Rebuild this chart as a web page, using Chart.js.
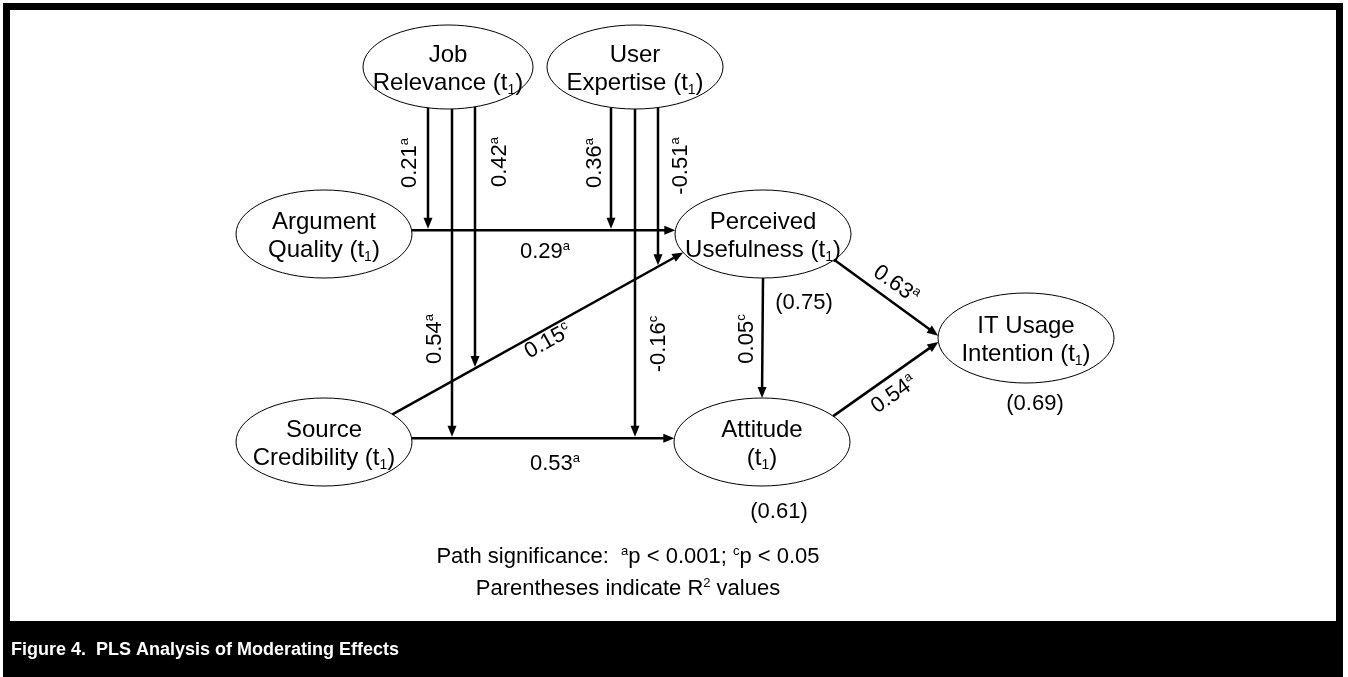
<!DOCTYPE html>
<html>
<head>
<meta charset="utf-8">
<title>PLS Analysis of Moderating Effects</title>
<script src="https://cdn.jsdelivr.net/npm/chart.js@4/dist/chart.umd.min.js"></script>
<style>
  html, body { margin: 0; padding: 0; background: #fff; }
  canvas { display: block; }
</style>
</head>
<body>
<canvas id="plsChart" width="1348" height="677"></canvas>
<script>
// ---- data ----
const constructs = ['JR', 'UE', 'AQ', 'SC', 'PU', 'ATT', 'IT'];
const constructLabels = [
  ['Job', 'Relevance (t{1})'],
  ['User', 'Expertise (t{1})'],
  ['Argument', 'Quality (t{1})'],
  ['Source', 'Credibility (t{1})'],
  ['Perceived', 'Usefulness (t{1})'],
  ['Attitude', '(t{1})'],
  ['IT Usage', 'Intention (t{1})']
];
const rSquared = [null, null, null, null, 0.75, 0.61, 0.69];

// direct paths
const pathFrom = ['AQ', 'SC', 'SC', 'PU', 'PU', 'ATT'];
const pathTo = ['PU', 'PU', 'ATT', 'ATT', 'IT', 'IT'];
const pathCoef = [0.29, 0.15, 0.53, 0.05, 0.63, 0.54];
const pathSig = ['a', 'c', 'a', 'c', 'a', 'a'];

// moderating effects (moderator -> index of path it moderates)
const modFrom = ['JR', 'JR', 'JR', 'UE', 'UE', 'UE'];
const modOnPath = [0, 2, 1, 0, 2, 1];
const modCoef = [0.21, 0.54, 0.42, 0.36, -0.16, -0.51];
const modSig = ['a', 'a', 'a', 'a', 'c', 'a'];

const notes = ['Path significance:  ^ap < 0.001; ^cp < 0.05', 'Parentheses indicate R^2 values'];
const caption = 'Figure 4.  PLS Analysis of Moderating Effects';

// ---- layout (drawing units, y grows downward) ----
const nodeX = [448, 635, 324, 324, 763, 762, 1026];
const nodeY = [67, 67, 234, 442, 234, 442, 338];
const nodeRx = [85, 88, 88, 88, 88, 88, 88];
const nodeRy = [42, 42, 44, 44, 44, 44, 45];
const pathStartAngle = [-5, -39, -5, 90, 36, -36];
const pathEndAngle = [185, 155, 185, -90, 183, 175];
const modOffset = [-20, 4, 27, -24, 0, 23];
const pathLabelPos = [[545, 250, 0], [547, 340, -29], [555, 462, 0], [745, 339, -90], [897, 283, 35], [893, 393, -35]];
const modLabelPos = [[408, 163, -90], [433, 339, -90], [498, 162, -90], [593, 163, -90], [657, 344, -90], [679, 166, -90]];
const r2Pos = [null, null, null, null, [804, 301], [779, 510], [1035, 402]];
const notePos = [[628, 555], [628, 587]];

const FONT = "'Liberation Sans', Arial, sans-serif";

// ---- helpers ----
const rad = d => d * Math.PI / 180;
const nodeIndex = code => constructs.indexOf(code);

function anchor(n, deg) {
  return { x: nodeX[n] + nodeRx[n] * Math.cos(rad(deg)), y: nodeY[n] + nodeRy[n] * Math.sin(rad(deg)) };
}

const pathSegs = pathFrom.map((f, i) => ({
  a: anchor(nodeIndex(f), pathStartAngle[i]),
  b: anchor(nodeIndex(pathTo[i]), pathEndAngle[i])
}));

function arrowDataset(label, from, tip) {
  const dx = tip.x - from.x, dy = tip.y - from.y, len = Math.hypot(dx, dy);
  const end = { x: tip.x - dx / len * 6, y: tip.y - dy / len * 6 };
  return {
    label: label,
    data: [from, end],
    tip: tip,
    showLine: true,
    borderColor: '#000',
    borderWidth: 2.5,
    pointRadius: 0,
    pointHoverRadius: 0
  };
}

const datasets = [];
pathSegs.forEach((s, i) => {
  datasets.push(arrowDataset(pathFrom[i] + '->' + pathTo[i], s.a, s.b));
});
modFrom.forEach((m, i) => {
  const n = nodeIndex(m);
  const x = nodeX[n] + modOffset[i];
  const start = { x: x, y: nodeY[n] + nodeRy[n] * Math.sqrt(1 - Math.pow(modOffset[i] / nodeRx[n], 2)) };
  const s = pathSegs[modOnPath[i]];
  const yOn = s.a.y + (x - s.a.x) * (s.b.y - s.a.y) / (s.b.x - s.a.x);
  datasets.push(arrowDataset(m + ' x path ' + modOnPath[i], start, { x: x, y: yOn - 1.5 }));
});

// text with ^x superscripts and {x} subscripts
function parseRich(str) {
  const segs = [];
  let buf = '';
  for (let i = 0; i < str.length; i++) {
    const ch = str[i];
    if (ch === '^') {
      if (buf) segs.push({ t: buf, m: 0 });
      buf = '';
      segs.push({ t: str[i + 1], m: 1 });
      i++;
    } else if (ch === '{') {
      if (buf) segs.push({ t: buf, m: 0 });
      buf = '';
      const j = str.indexOf('}', i);
      segs.push({ t: str.slice(i + 1, j), m: -1 });
      i = j;
    } else {
      buf += ch;
    }
  }
  if (buf) segs.push({ t: buf, m: 0 });
  return segs;
}

function drawRich(ctx, str, x, y, size, angle, opts) {
  opts = opts || {};
  const segs = parseRich(str);
  const small = Math.round(size * 0.6);
  const weight = opts.bold ? 'bold ' : '';
  let total = 0;
  segs.forEach(sg => {
    ctx.font = weight + (sg.m ? small : size) + 'px ' + FONT;
    sg.w = ctx.measureText(sg.t).width;
    total += sg.w;
  });
  ctx.save();
  ctx.translate(x, y);
  ctx.rotate(rad(angle || 0));
  ctx.fillStyle = opts.color || '#000';
  ctx.textBaseline = 'alphabetic';
  ctx.textAlign = 'left';
  let cx = opts.align === 'left' ? 0 : -total / 2;
  const base = size * 0.358;
  segs.forEach(sg => {
    ctx.font = weight + (sg.m ? small : size) + 'px ' + FONT;
    let dy = base;
    if (sg.m === 1) dy = base - size * 0.38;
    if (sg.m === -1) dy = base + size * 0.18;
    ctx.fillText(sg.t, cx, dy);
    cx += sg.w;
  });
  ctx.restore();
}

// ---- plugins ----
const framePlugin = {
  id: 'frame',
  beforeDraw(chart) {
    const ctx = chart.ctx;
    ctx.save();
    ctx.fillStyle = '#fff';
    ctx.fillRect(0, 0, chart.width, chart.height);
    ctx.strokeStyle = '#000';
    ctx.lineWidth = 7;
    ctx.strokeRect(6.5, 6.5, 1333, 700);
    ctx.fillStyle = '#000';
    ctx.fillRect(3, 621, 1340, 60);
    ctx.restore();
    drawRich(ctx, caption, 11, 649, 18, 0, { bold: true, color: '#fff', align: 'left' });
  }
};

const nodePlugin = {
  id: 'nodes',
  beforeDatasetsDraw(chart) {
    const ctx = chart.ctx;
    const sx = chart.scales.x, sy = chart.scales.y;
    constructs.forEach((c, i) => {
      const px = sx.getPixelForValue(nodeX[i]);
      const py = sy.getPixelForValue(nodeY[i]);
      ctx.save();
      ctx.beginPath();
      ctx.ellipse(px, py, nodeRx[i], nodeRy[i], 0, 0, Math.PI * 2);
      ctx.fillStyle = '#fff';
      ctx.fill();
      ctx.lineWidth = 1;
      ctx.strokeStyle = '#000';
      ctx.stroke();
      ctx.restore();
      drawRich(ctx, constructLabels[i][0], px, py - 14, 24, 0);
      drawRich(ctx, constructLabels[i][1], px, py + 14, 24, 0);
    });
  }
};

const arrowPlugin = {
  id: 'arrows',
  afterDatasetsDraw(chart) {
    const ctx = chart.ctx;
    const sx = chart.scales.x, sy = chart.scales.y;
    chart.data.datasets.forEach((ds, i) => {
      if (!ds.tip) return;
      const pts = chart.getDatasetMeta(i).data;
      const tx = sx.getPixelForValue(ds.tip.x), ty = sy.getPixelForValue(ds.tip.y);
      const ang = Math.atan2(ty - pts[0].y, tx - pts[0].x);
      ctx.save();
      ctx.translate(tx, ty);
      ctx.rotate(ang);
      ctx.beginPath();
      ctx.moveTo(0, 0);
      ctx.lineTo(-11, -4.5);
      ctx.lineTo(-11, 4.5);
      ctx.closePath();
      ctx.fillStyle = '#000';
      ctx.fill();
      ctx.restore();
    });
  }
};

const labelPlugin = {
  id: 'labels',
  afterDatasetsDraw(chart) {
    const ctx = chart.ctx;
    const sx = chart.scales.x, sy = chart.scales.y;
    const at = p => [sx.getPixelForValue(p[0]), sy.getPixelForValue(p[1])];
    pathCoef.forEach((v, i) => {
      const [x, y] = at(pathLabelPos[i]);
      drawRich(ctx, v.toFixed(2) + '^' + pathSig[i], x, y, 22, pathLabelPos[i][2]);
    });
    modCoef.forEach((v, i) => {
      const [x, y] = at(modLabelPos[i]);
      drawRich(ctx, v.toFixed(2) + '^' + modSig[i], x, y, 22, modLabelPos[i][2]);
    });
    rSquared.forEach((v, i) => {
      if (v === null) return;
      const [x, y] = at(r2Pos[i]);
      drawRich(ctx, '(' + v.toFixed(2) + ')', x, y, 22, 0);
    });
    notes.forEach((t, i) => {
      const [x, y] = at(notePos[i]);
      drawRich(ctx, t, x, y, 22, 0);
    });
  }
};

// ---- chart ----
new Chart(document.getElementById('plsChart'), {
  type: 'scatter',
  data: { datasets: datasets },
  options: {
    responsive: false,
    animation: false,
    events: [],
    layout: { padding: 0 },
    scales: {
      x: { type: 'linear', min: 0, max: 1348, display: false },
      y: { type: 'linear', min: 0, max: 677, reverse: true, display: false }
    },
    plugins: {
      legend: { display: false },
      tooltip: { enabled: false },
      title: { display: false }
    }
  },
  plugins: [framePlugin, nodePlugin, arrowPlugin, labelPlugin]
});
</script>
</body>
</html>
